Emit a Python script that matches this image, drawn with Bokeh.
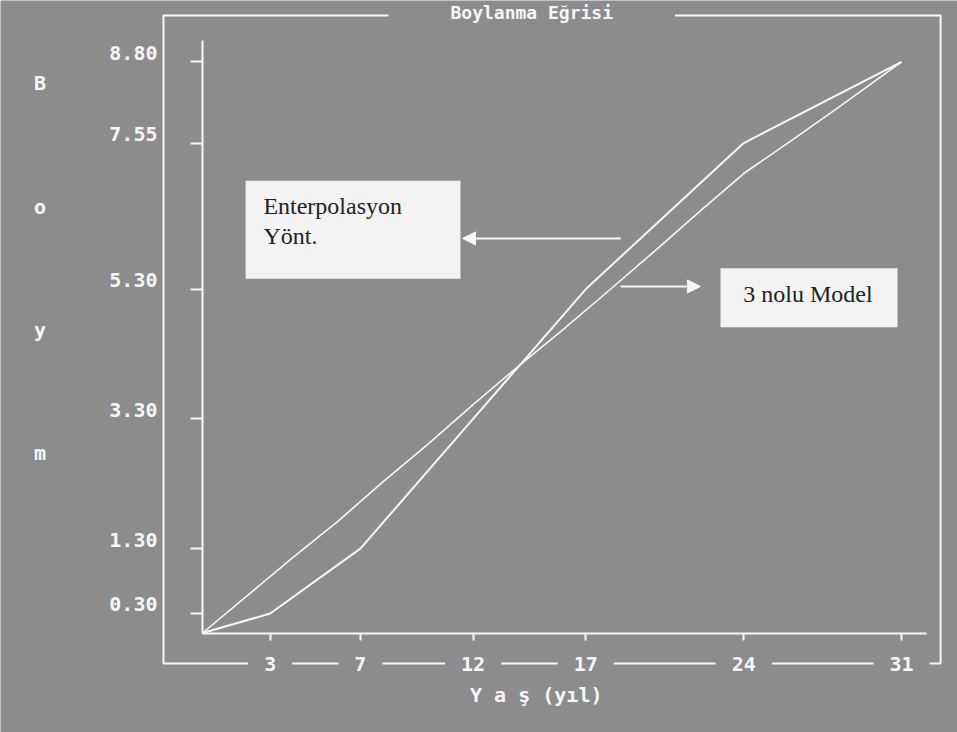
from bokeh.plotting import figure
from bokeh.models import (Range1d, LinearAxis, FixedTicker, NumeralTickFormatter,
                          Label, BoxAnnotation, Arrow, NormalHead)
from bokeh.embed import file_html
from bokeh.resources import INLINE

# ---------------- data ----------------
ages = [0, 3, 7, 12, 17, 24, 31]
interp_height = [0.0, 0.30, 1.30, 3.30, 5.30, 7.55, 8.80]          # Enterpolasyon Yönt.
model_ages = [0, 2, 4, 6, 8, 10, 12, 14, 16, 18, 20, 22, 24, 26, 28, 30, 31]
model_height = [0.0, 0.58, 1.16, 1.72, 2.33, 2.91, 3.52, 4.11, 4.68,
                5.27, 5.87, 6.48, 7.08, 7.56, 8.05, 8.55, 8.80]      # 3 nolu Model
x_ticks = [3, 7, 12, 17, 24, 31]
y_ticks = [0.30, 1.30, 3.30, 5.30, 7.55, 8.80]
title_text = "Boylanma Eğrisi"
x_label = "Y a ş (yıl)"
y_label_letters = ["B", "o", "y", "m"]
interp_name = ["Enterpolasyon", "Yönt."]
model_name = "3 nolu Model"

BG = "#8c8c8c"
FG = "#f7f7f7"
MONO = "DejaVu Sans Mono"
SERIF = "Liberation Serif"
FS = "20px"

# whole canvas is the frame; the outer box is drawn as an annotation
X0, X1 = -8.958, 33.48
Y0, Y1 = -1.533, 9.746
BOX_L, BOX_R, BOX_T, BOX_B = -1.73, 32.73, 9.515, -0.47

p = figure(width=957, height=732, output_backend="svg", toolbar_location=None,
           x_range=Range1d(X0, X1), y_range=Range1d(Y0, Y1),
           x_axis_location=None, y_axis_location=None,
           min_border=0, min_border_left=0, min_border_right=0,
           min_border_top=0, min_border_bottom=0,
           background_fill_color=BG, border_fill_color=BG, outline_line_color=None)
p.grid.visible = False

# outer frame box
p.add_layout(BoxAnnotation(left=BOX_L, right=BOX_R, top=BOX_T, bottom=BOX_B,
                           fill_alpha=0, fill_color=None,
                           line_color=FG, line_alpha=1, line_width=2))

# shifted range used only for the y tick labels (printed a little above the ticks)
shift = 0.14
p.extra_y_ranges = {"lbl": Range1d(Y0 - shift, Y1 - shift)}

lbl_axis = LinearAxis(y_range_name="lbl", fixed_location=BOX_L,
                      ticker=FixedTicker(ticks=y_ticks),
                      formatter=NumeralTickFormatter(format="0.00"),
                      axis_line_color=None, major_tick_line_color=None,
                      minor_tick_line_color=None, major_tick_out=0, major_tick_in=0,
                      major_label_standoff=6, major_label_text_color=FG,
                      major_label_text_font=MONO, major_label_text_font_style="bold",
                      major_label_text_font_size=FS)
p.add_layout(lbl_axis, "left")

y_axis = LinearAxis(fixed_location=0, ticker=FixedTicker(ticks=y_ticks), bounds=(0, 9.13),
                    axis_line_color=FG, axis_line_width=2,
                    major_tick_line_color=FG, major_tick_line_width=2,
                    major_tick_out=12, major_tick_in=0, minor_tick_line_color=None,
                    major_label_text_color=None, major_label_text_font_size="0px")
p.add_layout(y_axis, "left")

x_axis = LinearAxis(fixed_location=0, ticker=FixedTicker(ticks=x_ticks), bounds=(0, 32.1),
                    axis_line_color=FG, axis_line_width=2,
                    major_tick_line_color=FG, major_tick_line_width=2,
                    major_tick_out=7, major_tick_in=0, minor_tick_line_color=None,
                    major_label_text_color=None, major_label_text_font_size="0px")
p.add_layout(x_axis, "below")

# curves
p.line(model_ages, model_height, line_color=FG, line_width=1.6)
p.line(ages, interp_height, line_color=FG, line_width=2)

# x tick labels sitting on the outer frame line
for t in x_ticks:
    p.add_layout(Label(x=t, y=BOX_B, text=str(t), text_align="center", text_baseline="middle",
                       text_color=FG, text_font=MONO, text_font_style="bold", text_font_size=FS,
                       background_fill_color=BG,
                       padding=dict(left=16, right=16, top=3, bottom=3)))

# title breaking the top frame line
p.add_layout(Label(x=14.6, y=9.555, text=title_text, text_align="center", text_baseline="middle",
                   text_color=FG, text_font=MONO, text_font_style="bold", text_font_size="18px",
                   background_fill_color=BG,
                   padding=dict(left=62, right=62, top=0, bottom=1)))

# axis titles
p.add_layout(Label(x=14.8, y=-0.96, text=x_label, text_align="center", text_baseline="middle",
                   text_color=FG, text_font=MONO, text_font_style="bold", text_font_size=FS))
for letter, yy in zip(y_label_letters, [8.47, 6.56, 4.67, 2.78]):
    p.add_layout(Label(x=-7.2, y=yy, text=letter, text_align="center", text_baseline="middle",
                       text_color=FG, text_font=MONO, text_font_style="bold", text_font_size=FS))

# annotation boxes
p.add_layout(BoxAnnotation(left=1.91, right=11.44, top=6.97, bottom=5.46,
                           fill_color="#f3f3f3", fill_alpha=1, line_color=None))
p.add_layout(Label(x=2.7, y=6.585, text=interp_name[0], text_baseline="middle",
                   text_color="#222222", text_font=SERIF, text_font_size="24px"))
p.add_layout(Label(x=2.7, y=6.11, text=interp_name[1], text_baseline="middle",
                   text_color="#222222", text_font=SERIF, text_font_size="24px"))

p.add_layout(BoxAnnotation(left=22.97, right=30.82, top=5.62, bottom=4.71,
                           fill_color="#f3f3f3", fill_alpha=1, line_color=None))
p.add_layout(Label(x=26.85, y=5.23, text=model_name, text_align="center", text_baseline="middle",
                   text_color="#222222", text_font=SERIF, text_font_size="24px"))

# arrows
p.add_layout(Arrow(end=NormalHead(size=13, fill_color=FG, line_color=FG),
                   x_start=18.54, y_start=6.08, x_end=11.53, y_end=6.08,
                   line_color=FG, line_width=2))
p.add_layout(Arrow(end=NormalHead(size=13, fill_color=FG, line_color=FG),
                   x_start=18.54, y_start=5.34, x_end=22.08, y_end=5.34,
                   line_color=FG, line_width=2))

open("out.html", "w").write(file_html(p, INLINE))
